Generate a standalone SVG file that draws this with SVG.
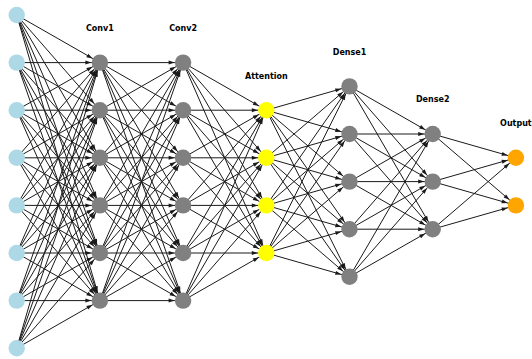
<svg xmlns="http://www.w3.org/2000/svg" width="532" height="359" viewBox="0 0 532 359">
<style>
.e line{stroke:#1a1a1a;stroke-width:1;marker-end:url(#ah)}
.n{stroke:none}
.in{fill:#add8e6}.gr{fill:#808080}.ye{fill:#ffff00}.or{fill:#ffa500}
.lb{font-family:"DejaVu Sans",sans-serif;font-weight:bold;font-size:8px;fill:#000;text-anchor:middle}
</style>
<defs>
<marker id="ah" markerUnits="userSpaceOnUse" viewBox="0 0 6 4" markerWidth="6" markerHeight="4" refX="14.5" refY="2" orient="auto" overflow="visible"><path d="M0,0 L6,2 L0,4 z" fill="#1a1a1a"/></marker>
</defs>
<rect width="532" height="359" fill="#fff"/>
<g id="connectors" class="e">
<line x1="16.7" y1="15" x2="99.9" y2="62.6"/><line x1="16.7" y1="15" x2="99.9" y2="110.2"/><line x1="16.7" y1="15" x2="99.9" y2="157.8"/><line x1="16.7" y1="15" x2="99.9" y2="205.4"/><line x1="16.7" y1="15" x2="99.9" y2="253"/><line x1="16.7" y1="15" x2="99.9" y2="300.6"/>
<line x1="16.7" y1="62.6" x2="99.9" y2="62.6"/><line x1="16.7" y1="62.6" x2="99.9" y2="110.2"/><line x1="16.7" y1="62.6" x2="99.9" y2="157.8"/><line x1="16.7" y1="62.6" x2="99.9" y2="205.4"/><line x1="16.7" y1="62.6" x2="99.9" y2="253"/><line x1="16.7" y1="62.6" x2="99.9" y2="300.6"/>
<line x1="16.7" y1="110.2" x2="99.9" y2="62.6"/><line x1="16.7" y1="110.2" x2="99.9" y2="110.2"/><line x1="16.7" y1="110.2" x2="99.9" y2="157.8"/><line x1="16.7" y1="110.2" x2="99.9" y2="205.4"/><line x1="16.7" y1="110.2" x2="99.9" y2="253"/><line x1="16.7" y1="110.2" x2="99.9" y2="300.6"/>
<line x1="16.7" y1="157.8" x2="99.9" y2="62.6"/><line x1="16.7" y1="157.8" x2="99.9" y2="110.2"/><line x1="16.7" y1="157.8" x2="99.9" y2="157.8"/><line x1="16.7" y1="157.8" x2="99.9" y2="205.4"/><line x1="16.7" y1="157.8" x2="99.9" y2="253"/><line x1="16.7" y1="157.8" x2="99.9" y2="300.6"/>
<line x1="16.7" y1="205.4" x2="99.9" y2="62.6"/><line x1="16.7" y1="205.4" x2="99.9" y2="110.2"/><line x1="16.7" y1="205.4" x2="99.9" y2="157.8"/><line x1="16.7" y1="205.4" x2="99.9" y2="205.4"/><line x1="16.7" y1="205.4" x2="99.9" y2="253"/><line x1="16.7" y1="205.4" x2="99.9" y2="300.6"/>
<line x1="16.7" y1="253" x2="99.9" y2="62.6"/><line x1="16.7" y1="253" x2="99.9" y2="110.2"/><line x1="16.7" y1="253" x2="99.9" y2="157.8"/><line x1="16.7" y1="253" x2="99.9" y2="205.4"/><line x1="16.7" y1="253" x2="99.9" y2="253"/><line x1="16.7" y1="253" x2="99.9" y2="300.6"/>
<line x1="16.7" y1="300.6" x2="99.9" y2="62.6"/><line x1="16.7" y1="300.6" x2="99.9" y2="110.2"/><line x1="16.7" y1="300.6" x2="99.9" y2="157.8"/><line x1="16.7" y1="300.6" x2="99.9" y2="205.4"/><line x1="16.7" y1="300.6" x2="99.9" y2="253"/><line x1="16.7" y1="300.6" x2="99.9" y2="300.6"/>
<line x1="16.7" y1="348.2" x2="99.9" y2="62.6"/><line x1="16.7" y1="348.2" x2="99.9" y2="110.2"/><line x1="16.7" y1="348.2" x2="99.9" y2="157.8"/><line x1="16.7" y1="348.2" x2="99.9" y2="205.4"/><line x1="16.7" y1="348.2" x2="99.9" y2="253"/><line x1="16.7" y1="348.2" x2="99.9" y2="300.6"/>

<line x1="99.9" y1="62.6" x2="183.1" y2="62.6"/><line x1="99.9" y1="62.6" x2="183.1" y2="110.2"/><line x1="99.9" y1="62.6" x2="183.1" y2="157.8"/><line x1="99.9" y1="62.6" x2="183.1" y2="205.4"/><line x1="99.9" y1="62.6" x2="183.1" y2="253"/><line x1="99.9" y1="62.6" x2="183.1" y2="300.6"/>
<line x1="99.9" y1="110.2" x2="183.1" y2="62.6"/><line x1="99.9" y1="110.2" x2="183.1" y2="110.2"/><line x1="99.9" y1="110.2" x2="183.1" y2="157.8"/><line x1="99.9" y1="110.2" x2="183.1" y2="205.4"/><line x1="99.9" y1="110.2" x2="183.1" y2="253"/><line x1="99.9" y1="110.2" x2="183.1" y2="300.6"/>
<line x1="99.9" y1="157.8" x2="183.1" y2="62.6"/><line x1="99.9" y1="157.8" x2="183.1" y2="110.2"/><line x1="99.9" y1="157.8" x2="183.1" y2="157.8"/><line x1="99.9" y1="157.8" x2="183.1" y2="205.4"/><line x1="99.9" y1="157.8" x2="183.1" y2="253"/><line x1="99.9" y1="157.8" x2="183.1" y2="300.6"/>
<line x1="99.9" y1="205.4" x2="183.1" y2="62.6"/><line x1="99.9" y1="205.4" x2="183.1" y2="110.2"/><line x1="99.9" y1="205.4" x2="183.1" y2="157.8"/><line x1="99.9" y1="205.4" x2="183.1" y2="205.4"/><line x1="99.9" y1="205.4" x2="183.1" y2="253"/><line x1="99.9" y1="205.4" x2="183.1" y2="300.6"/>
<line x1="99.9" y1="253" x2="183.1" y2="62.6"/><line x1="99.9" y1="253" x2="183.1" y2="110.2"/><line x1="99.9" y1="253" x2="183.1" y2="157.8"/><line x1="99.9" y1="253" x2="183.1" y2="205.4"/><line x1="99.9" y1="253" x2="183.1" y2="253"/><line x1="99.9" y1="253" x2="183.1" y2="300.6"/>
<line x1="99.9" y1="300.6" x2="183.1" y2="62.6"/><line x1="99.9" y1="300.6" x2="183.1" y2="110.2"/><line x1="99.9" y1="300.6" x2="183.1" y2="157.8"/><line x1="99.9" y1="300.6" x2="183.1" y2="205.4"/><line x1="99.9" y1="300.6" x2="183.1" y2="253"/><line x1="99.9" y1="300.6" x2="183.1" y2="300.6"/>

<line x1="183.1" y1="62.6" x2="266.3" y2="110.2"/><line x1="183.1" y1="62.6" x2="266.3" y2="157.8"/><line x1="183.1" y1="62.6" x2="266.3" y2="205.4"/><line x1="183.1" y1="62.6" x2="266.3" y2="253"/>
<line x1="183.1" y1="110.2" x2="266.3" y2="110.2"/><line x1="183.1" y1="110.2" x2="266.3" y2="157.8"/><line x1="183.1" y1="110.2" x2="266.3" y2="205.4"/><line x1="183.1" y1="110.2" x2="266.3" y2="253"/>
<line x1="183.1" y1="157.8" x2="266.3" y2="110.2"/><line x1="183.1" y1="157.8" x2="266.3" y2="157.8"/><line x1="183.1" y1="157.8" x2="266.3" y2="205.4"/><line x1="183.1" y1="157.8" x2="266.3" y2="253"/>
<line x1="183.1" y1="205.4" x2="266.3" y2="110.2"/><line x1="183.1" y1="205.4" x2="266.3" y2="157.8"/><line x1="183.1" y1="205.4" x2="266.3" y2="205.4"/><line x1="183.1" y1="205.4" x2="266.3" y2="253"/>
<line x1="183.1" y1="253" x2="266.3" y2="110.2"/><line x1="183.1" y1="253" x2="266.3" y2="157.8"/><line x1="183.1" y1="253" x2="266.3" y2="205.4"/><line x1="183.1" y1="253" x2="266.3" y2="253"/>
<line x1="183.1" y1="300.6" x2="266.3" y2="110.2"/><line x1="183.1" y1="300.6" x2="266.3" y2="157.8"/><line x1="183.1" y1="300.6" x2="266.3" y2="205.4"/><line x1="183.1" y1="300.6" x2="266.3" y2="253"/>

<line x1="266.3" y1="110.2" x2="349.5" y2="86.4"/><line x1="266.3" y1="110.2" x2="349.5" y2="134"/><line x1="266.3" y1="110.2" x2="349.5" y2="181.6"/><line x1="266.3" y1="110.2" x2="349.5" y2="229.2"/><line x1="266.3" y1="110.2" x2="349.5" y2="276.8"/>
<line x1="266.3" y1="157.8" x2="349.5" y2="86.4"/><line x1="266.3" y1="157.8" x2="349.5" y2="134"/><line x1="266.3" y1="157.8" x2="349.5" y2="181.6"/><line x1="266.3" y1="157.8" x2="349.5" y2="229.2"/><line x1="266.3" y1="157.8" x2="349.5" y2="276.8"/>
<line x1="266.3" y1="205.4" x2="349.5" y2="86.4"/><line x1="266.3" y1="205.4" x2="349.5" y2="134"/><line x1="266.3" y1="205.4" x2="349.5" y2="181.6"/><line x1="266.3" y1="205.4" x2="349.5" y2="229.2"/><line x1="266.3" y1="205.4" x2="349.5" y2="276.8"/>
<line x1="266.3" y1="253" x2="349.5" y2="86.4"/><line x1="266.3" y1="253" x2="349.5" y2="134"/><line x1="266.3" y1="253" x2="349.5" y2="181.6"/><line x1="266.3" y1="253" x2="349.5" y2="229.2"/><line x1="266.3" y1="253" x2="349.5" y2="276.8"/>

<line x1="349.5" y1="86.4" x2="432.7" y2="134"/><line x1="349.5" y1="86.4" x2="432.7" y2="181.6"/><line x1="349.5" y1="86.4" x2="432.7" y2="229.2"/>
<line x1="349.5" y1="134" x2="432.7" y2="134"/><line x1="349.5" y1="134" x2="432.7" y2="181.6"/><line x1="349.5" y1="134" x2="432.7" y2="229.2"/>
<line x1="349.5" y1="181.6" x2="432.7" y2="134"/><line x1="349.5" y1="181.6" x2="432.7" y2="181.6"/><line x1="349.5" y1="181.6" x2="432.7" y2="229.2"/>
<line x1="349.5" y1="229.2" x2="432.7" y2="134"/><line x1="349.5" y1="229.2" x2="432.7" y2="181.6"/><line x1="349.5" y1="229.2" x2="432.7" y2="229.2"/>
<line x1="349.5" y1="276.8" x2="432.7" y2="134"/><line x1="349.5" y1="276.8" x2="432.7" y2="181.6"/><line x1="349.5" y1="276.8" x2="432.7" y2="229.2"/>

<line x1="432.7" y1="134" x2="515.9" y2="157.8"/><line x1="432.7" y1="134" x2="515.9" y2="205.4"/>
<line x1="432.7" y1="181.6" x2="515.9" y2="157.8"/><line x1="432.7" y1="181.6" x2="515.9" y2="205.4"/>
<line x1="432.7" y1="229.2" x2="515.9" y2="157.8"/><line x1="432.7" y1="229.2" x2="515.9" y2="205.4"/>
</g>
<g id="in0"><circle class="n in" cx="16.7" cy="15" r="8.2"/></g>
<g id="in1"><circle class="n in" cx="16.7" cy="62.6" r="8.2"/></g>
<g id="in2"><circle class="n in" cx="16.7" cy="110.2" r="8.2"/></g>
<g id="in3"><circle class="n in" cx="16.7" cy="157.8" r="8.2"/></g>
<g id="in4"><circle class="n in" cx="16.7" cy="205.4" r="8.2"/></g>
<g id="in5"><circle class="n in" cx="16.7" cy="253" r="8.2"/></g>
<g id="in6"><circle class="n in" cx="16.7" cy="300.6" r="8.2"/></g>
<g id="in7"><circle class="n in" cx="16.7" cy="348.2" r="8.2"/></g>
<g id="conv1-0"><circle class="n gr" cx="99.9" cy="62.6" r="8.2"/></g>
<g id="conv1-1"><circle class="n gr" cx="99.9" cy="110.2" r="8.2"/></g>
<g id="conv1-2"><circle class="n gr" cx="99.9" cy="157.8" r="8.2"/></g>
<g id="conv1-3"><circle class="n gr" cx="99.9" cy="205.4" r="8.2"/></g>
<g id="conv1-4"><circle class="n gr" cx="99.9" cy="253" r="8.2"/></g>
<g id="conv1-5"><circle class="n gr" cx="99.9" cy="300.6" r="8.2"/></g>
<g id="conv2-0"><circle class="n gr" cx="183.1" cy="62.6" r="8.2"/></g>
<g id="conv2-1"><circle class="n gr" cx="183.1" cy="110.2" r="8.2"/></g>
<g id="conv2-2"><circle class="n gr" cx="183.1" cy="157.8" r="8.2"/></g>
<g id="conv2-3"><circle class="n gr" cx="183.1" cy="205.4" r="8.2"/></g>
<g id="conv2-4"><circle class="n gr" cx="183.1" cy="253" r="8.2"/></g>
<g id="conv2-5"><circle class="n gr" cx="183.1" cy="300.6" r="8.2"/></g>
<g id="att0"><circle class="n ye" cx="266.3" cy="110.2" r="8.2"/></g>
<g id="att1"><circle class="n ye" cx="266.3" cy="157.8" r="8.2"/></g>
<g id="att2"><circle class="n ye" cx="266.3" cy="205.4" r="8.2"/></g>
<g id="att3"><circle class="n ye" cx="266.3" cy="253" r="8.2"/></g>
<g id="dense1-0"><circle class="n gr" cx="349.5" cy="86.4" r="8.2"/></g>
<g id="dense1-1"><circle class="n gr" cx="349.5" cy="134" r="8.2"/></g>
<g id="dense1-2"><circle class="n gr" cx="349.5" cy="181.6" r="8.2"/></g>
<g id="dense1-3"><circle class="n gr" cx="349.5" cy="229.2" r="8.2"/></g>
<g id="dense1-4"><circle class="n gr" cx="349.5" cy="276.8" r="8.2"/></g>
<g id="dense2-0"><circle class="n gr" cx="432.7" cy="134" r="8.2"/></g>
<g id="dense2-1"><circle class="n gr" cx="432.7" cy="181.6" r="8.2"/></g>
<g id="dense2-2"><circle class="n gr" cx="432.7" cy="229.2" r="8.2"/></g>
<g id="out0"><circle class="n or" cx="515.9" cy="157.8" r="8.2"/></g>
<g id="out1"><circle class="n or" cx="515.9" cy="205.4" r="8.2"/></g>
<g id="labels">
<text class="lb" x="99.9" y="31">Conv1</text>
<text class="lb" x="183.1" y="31">Conv2</text>
<text class="lb" x="266.3" y="78.6">Attention</text>
<text class="lb" x="349.5" y="54.8">Dense1</text>
<text class="lb" x="432.7" y="102.4">Dense2</text>
<text class="lb" x="515.9" y="126.2">Output</text>
</g>
</svg>
